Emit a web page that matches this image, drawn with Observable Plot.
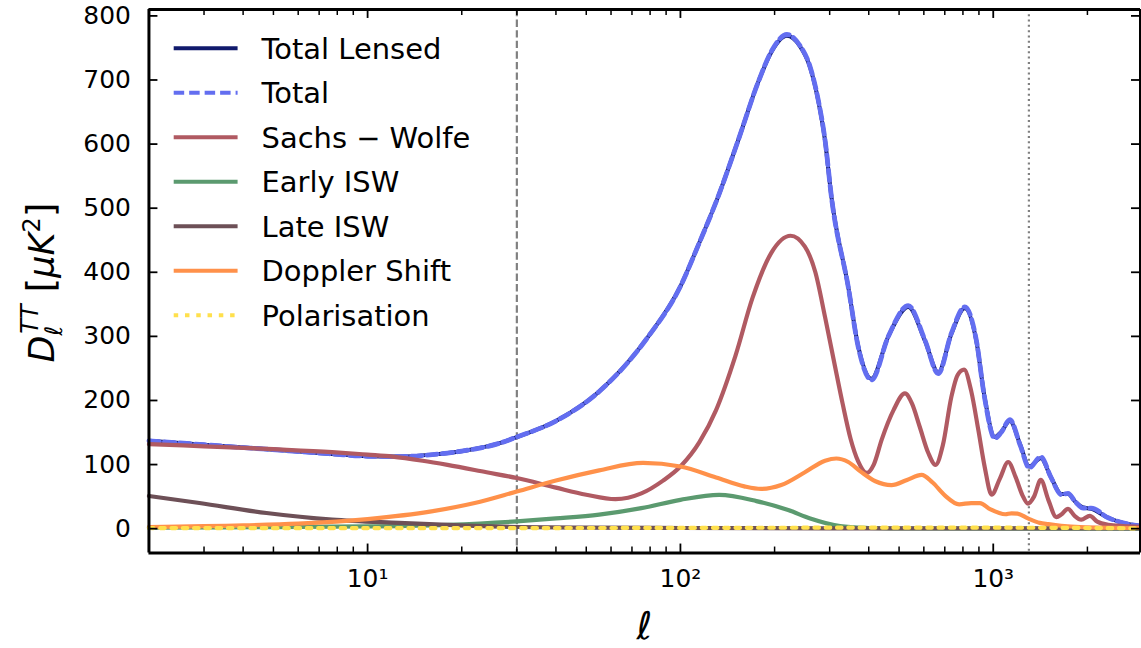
<!DOCTYPE html>
<html>
<head>
<meta charset="utf-8">
<script src="https://cdn.jsdelivr.net/npm/d3@7"></script>
<script src="https://cdn.jsdelivr.net/npm/@observablehq/plot@0.6"></script>
<style>
  html, body { margin: 0; padding: 0; background: white; overflow: hidden; }
  #chart svg { display: block; }
</style>
</head>
<body>
<div id="chart"></div>
<script>
// ---- data ----
const totalEll = [2, 3, 4.75, 7.7, 10, 12.6, 16.1, 20.6, 26.3, 30, 40, 55, 79, 100, 114, 132, 153, 178, 196, 219, 240, 260, 276, 290, 304, 344, 370, 408, 462, 535, 605, 667, 735, 811, 883, 937, 1011, 1060, 1130, 1220, 1303, 1419, 1530, 1652, 1734, 1830, 1937, 2057, 2330, 2600, 2956];
const totalVal = [137, 131, 124, 116.6, 113, 112.5, 115.5, 122, 133, 143, 168, 214, 300, 378, 442, 518, 606, 699, 746, 771, 755, 720, 668, 606, 517, 377, 284, 232, 300, 348, 294, 242, 305, 346, 294, 206, 141, 150, 170, 130, 95, 112, 80, 53, 55, 42, 32, 32, 17, 9, 4];
const lensedVal = [137, 131, 124, 116.6, 113, 112.5, 115.5, 122, 133, 143, 168, 214, 300, 378, 442, 518, 606, 699, 745, 769, 754, 719, 667, 605, 517, 377, 285, 234, 300, 346, 293, 244, 304, 344, 293, 207, 143, 151, 168, 131, 97, 110, 80, 54, 54, 42, 33, 31, 17, 9, 4];

const swEll = [2, 3, 5, 7.7, 10, 12, 15, 18, 24, 30, 40, 50, 62, 75, 88, 100, 115, 130, 150, 170, 195, 225, 250, 270, 290, 310, 330, 350, 370, 394, 415, 440, 480, 522, 550, 582, 620, 654, 690, 735, 770, 807, 850, 896, 940, 988, 1050, 1116, 1180, 1240, 1291, 1350, 1419, 1500, 1591, 1650, 1734, 1820, 1911, 2035, 2150, 2330, 2600, 2956];
const swVal = [132, 128.5, 124, 119.5, 115.5, 112.5, 106, 99.5, 88, 79, 64, 53, 46, 55, 75, 97, 135, 185, 270, 360, 430, 457, 440, 400, 330, 260, 195, 140, 105, 87, 100, 139, 185, 211, 195, 159, 118, 99.5, 130, 206, 240, 248, 215, 154, 95, 53, 78, 104, 80, 52, 39, 50, 76, 45, 18, 22, 31, 20, 14, 20, 11, 6, 4, 3];

const earlyEll = [2, 5, 10, 18, 30, 40, 55, 75, 100, 133, 175, 221, 260, 324, 400, 470, 2956];
const earlyVal = [1.5, 2.5, 3.5, 6, 11.4, 16, 22, 32, 45, 52.6, 43, 29, 16, 4, 1, 0.3, 0];

const lateEll = [2, 2.9, 4.75, 7.7, 12.6, 20.6, 30, 50, 100, 300, 2956];
const lateVal = [51, 40, 24.4, 14, 8.9, 4.7, 2.6, 1.5, 1, 0.6, 0.5];

const dopEll = [2, 4, 6, 10, 16, 22, 30, 40, 55, 76, 100, 130, 160, 181, 210, 250, 290, 315, 344, 377, 420, 473, 530, 590, 640, 700, 778, 850, 906, 980, 1093, 1144, 1195, 1291, 1408, 1500, 1650, 1900, 2956];
const dopVal = [2.6, 5, 7.8, 15, 27, 40, 58, 75, 91, 102.5, 97, 80, 66, 62, 68, 88, 106, 109.5, 104, 89, 74, 68, 76, 84, 72, 52, 38, 40, 40, 30, 22.5, 24, 23.5, 16, 9, 7, 4.5, 2.5, 1];

const polEll = [2, 10, 100, 300, 1000, 2956];
const polVal = [1, 0.8, 1.2, 1.5, 1.5, 0.5];

const yTicks = [0, 100, 200, 300, 400, 500, 600, 700, 800];
const xMajor = [10, 100, 1000];
const xMinor = [3, 4, 5, 6, 7, 8, 9, 20, 30, 40, 50, 60, 70, 80, 90, 200, 300, 400, 500, 600, 700, 800, 900, 2000];
const xTickLabels = ["10¹", "10²", "10³"];
const vlinesDashed = [30];
const vlinesDotted = [1300];

const seriesNames = ["Total Lensed", "Total", "Sachs − Wolfe", "Early ISW", "Late ISW", "Doppler Shift", "Polarisation"];
const seriesColors = ["#101a6c", "#636ef0", "#b05a62", "#5b9a6f", "#6d5057", "#ff914a", "#ffe04d"];

// ---- build tables ----
const zip = (xs, ys) => xs.map((l, i) => ({l, v: ys[i]}));
const dTotal = zip(totalEll, totalVal);
const dLensed = zip(totalEll, lensedVal);
const dSW = zip(swEll, swVal);
const dEarly = zip(earlyEll, earlyVal);
const dLate = zip(lateEll, lateVal);
const dDop = zip(dopEll, dopVal);
const dPol = zip(polEll, polVal);

const W = 1143, H = 648, mL = 148.7, mR = 1, mT = 9, mB = 94.5;
const iW = W - mL - mR, iH = H - mT - mB;
const xDom = [2, 2956], yDom = [-38, 810];

const LW = 4.2;
const lineOpts = (c, extra = {}) => ({x: "l", y: "v", stroke: c, strokeWidth: LW, curve: "monotone-x", ...extra});

const chart = Plot.plot({
  width: W, height: H,
  marginLeft: mL, marginRight: mR, marginTop: mT, marginBottom: mB,
  x: {type: "log", domain: xDom},
  y: {domain: yDom},
  style: {fontFamily: "DejaVu Sans", fontSize: "25px", background: "white", color: "black"},
  marks: [
    Plot.ruleX(vlinesDashed, {x: d => d, stroke: "#808080", strokeWidth: 2.2, strokeDasharray: "7.4,3.2"}),
    Plot.ruleX(vlinesDotted, {x: d => d, stroke: "#808080", strokeWidth: 2.2, strokeDasharray: "2,3.3"}),
    Plot.line(dLensed, lineOpts(seriesColors[0], {strokeWidth: 4})),
    Plot.line(dTotal, lineOpts(seriesColors[1], {strokeWidth: 4.8, strokeDasharray: "10.5,5"})),
    Plot.line(dSW, lineOpts(seriesColors[2])),
    Plot.line(dEarly, lineOpts(seriesColors[3])),
    Plot.line(dLate, lineOpts(seriesColors[4])),
    Plot.line(dDop, lineOpts(seriesColors[5])),
    Plot.line(dPol, lineOpts(seriesColors[6], {strokeDasharray: "4.5,6.8"})),
    // inward ticks
    Plot.tickX(xMajor, {x: d => d, insetTop: iH - 9, stroke: "black", strokeWidth: 1.8}),
    Plot.tickX(xMinor, {x: d => d, insetTop: iH - 6, stroke: "black", strokeWidth: 1.5}),
    Plot.tickX(xMajor, {x: d => d, insetBottom: iH - 9, stroke: "black", strokeWidth: 1.8}),
    Plot.tickX(xMinor, {x: d => d, insetBottom: iH - 6, stroke: "black", strokeWidth: 1.5}),
    Plot.tickY(yTicks, {y: d => d, insetRight: iW - 9, stroke: "black", strokeWidth: 1.8}),
    Plot.tickY(yTicks, {y: d => d, insetLeft: iW - 9, stroke: "black", strokeWidth: 1.8}),
    // spines
    Plot.ruleX([xDom[0]], {x: d => d, stroke: "black", strokeWidth: 3}),
    Plot.ruleX([xDom[1]], {x: d => d, stroke: "black", strokeWidth: 3}),
    Plot.ruleY([yDom[0]], {y: d => d, stroke: "black", strokeWidth: 3}),
    Plot.ruleY([yDom[1]], {y: d => d, stroke: "black", strokeWidth: 3}),
    // axes labels
    Plot.axisY(yTicks, {tickSize: 0, tickPadding: 18, label: null, fontSize: 25}),
    Plot.axisX(xMajor, {tickSize: 0, tickPadding: 16, label: null, fontSize: 25,
      tickFormat: d => xTickLabels[xMajor.indexOf(d)]})
  ]
});
document.getElementById("chart").appendChild(chart);

// ---- extra text: axis titles and legend ----
const svg = d3.select(chart);
const ff = "DejaVu Sans";

// x label (script ell)
svg.append("text")
  .attr("x", mL + iW / 2).attr("y", 640)
  .attr("text-anchor", "middle")
  .attr("font-family", ff).attr("font-style", "italic").attr("font-size", 38)
  .attr("fill", "black")
  .text("ℓ");

// y label
const yl = svg.append("text")
  .attr("transform", `translate(54,283) rotate(-90)`)
  .attr("text-anchor", "middle")
  .attr("font-family", ff).attr("font-size", 35).attr("fill", "black");
yl.append("tspan").attr("font-style", "italic").text("D");
yl.append("tspan").attr("font-style", "italic").attr("font-size", 24).attr("dy", 8).text("ℓ");
yl.append("tspan").attr("font-style", "italic").attr("font-size", 24).attr("dx", -8).attr("dy", -24).text("TT");
yl.append("tspan").attr("dy", 16).attr("font-size", 38).text(" [");
yl.append("tspan").attr("font-style", "italic").text("μK");
yl.append("tspan").attr("font-size", 24).attr("dy", -14).text("2");
yl.append("tspan").attr("dy", 14).attr("font-size", 38).text("]");

// legend
const lg = svg.append("g").attr("text-anchor", "start");
const dashes = [null, "10.5,5", null, null, null, null, "4.5,6.8"];
seriesNames.forEach((name, i) => {
  const yy = 48.3 + i * 44.6;
  lg.append("line").attr("x1", 174).attr("x2", 238).attr("y1", yy).attr("y2", yy)
    .attr("stroke", seriesColors[i]).attr("stroke-width", 4)
    .attr("stroke-dasharray", dashes[i]);
  lg.append("text").attr("x", 262).attr("y", yy).attr("dy", "0.36em")
    .attr("text-anchor", "start")
    .attr("font-family", ff).attr("font-size", 29).attr("fill", "black").text(name);
});
</script>
</body>
</html>
